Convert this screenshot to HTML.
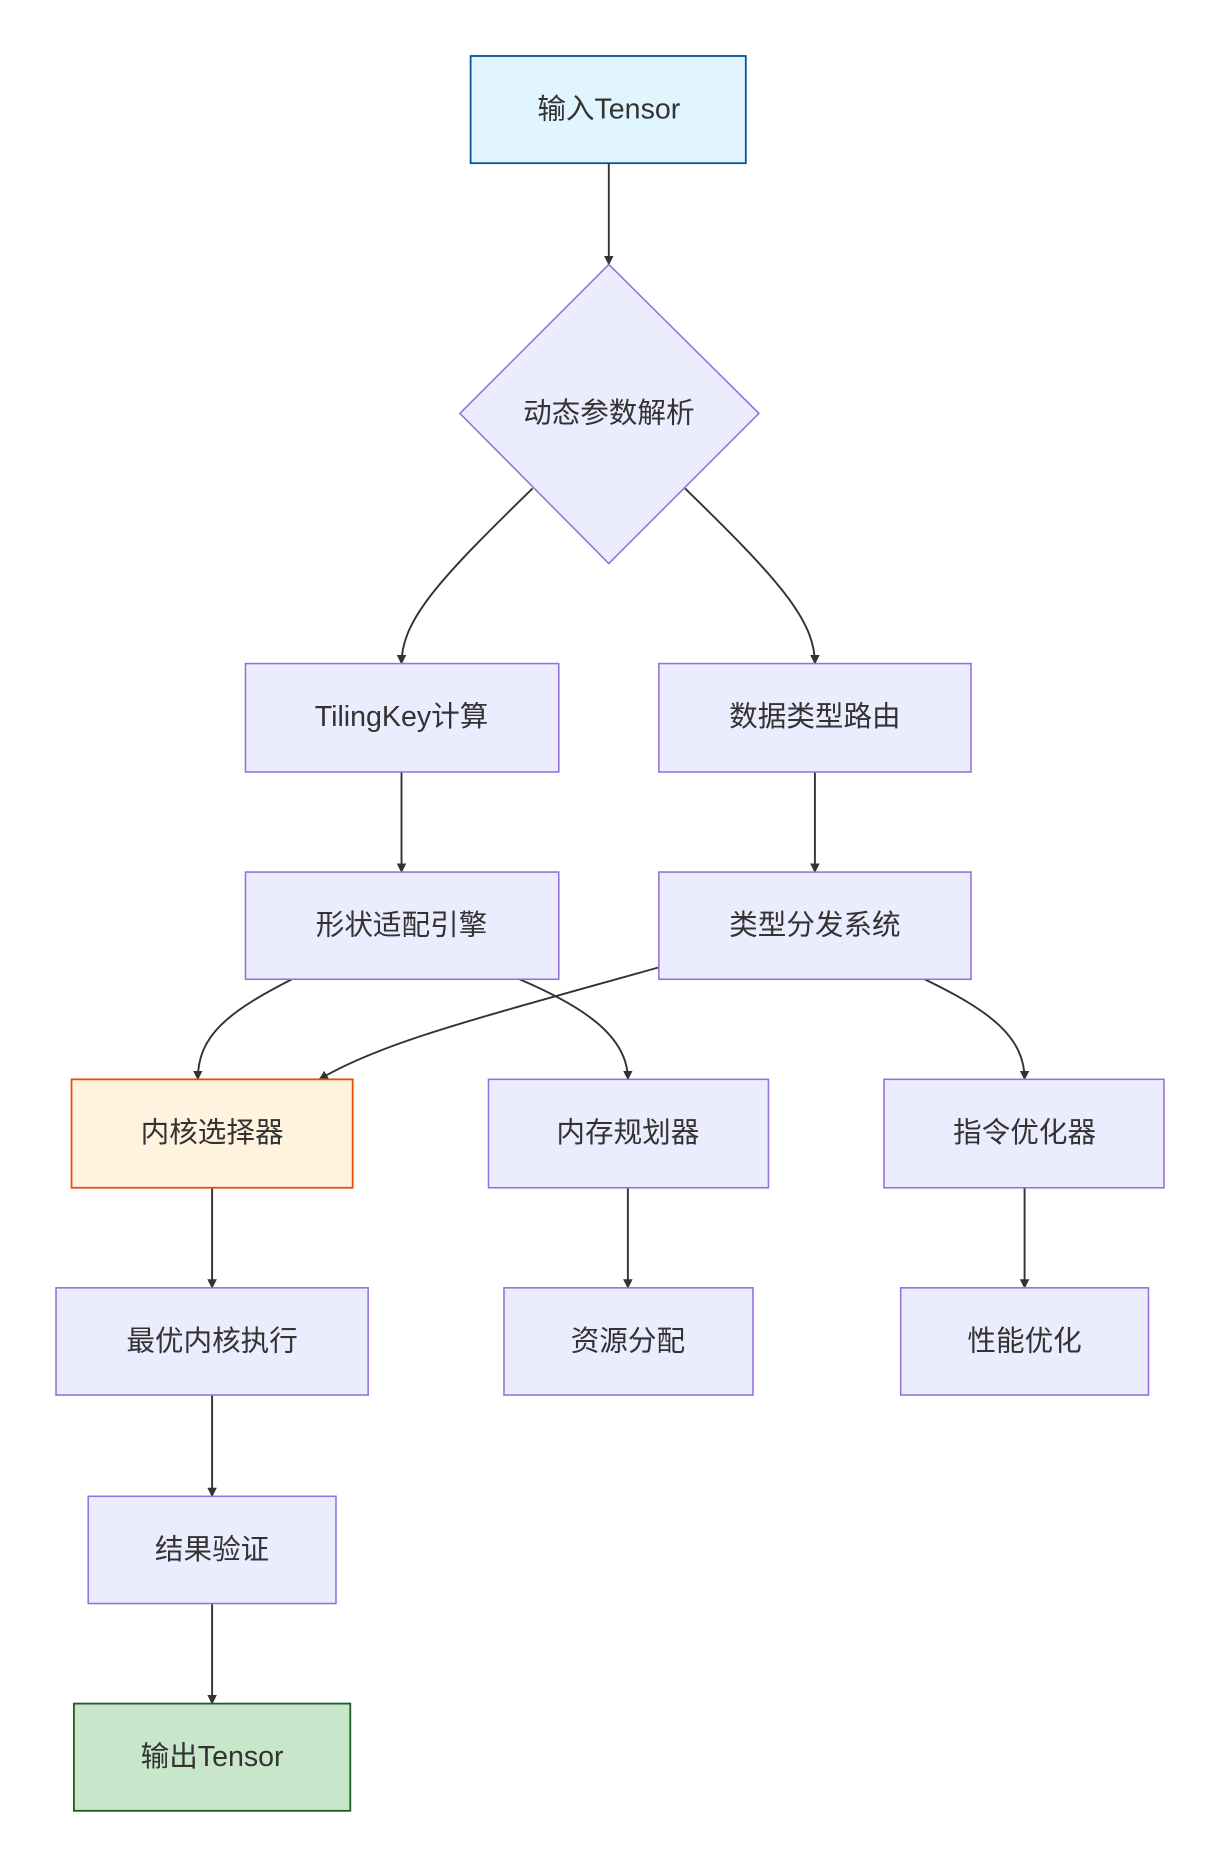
<!DOCTYPE html>
<html><head><meta charset="utf-8"><style>
html,body{margin:0;padding:0;background:#fff;}
svg{display:block;}
text{font-family:"Liberation Sans","Noto Sans CJK SC",sans-serif;font-size:24px;fill:#333;text-anchor:middle;dominant-baseline:central;}
.n{fill:#ececff;stroke:#9370db;stroke-width:1.3;}
.e{fill:none;stroke:#333;stroke-width:1.6;}
</style></head><body>
<svg width="1220" height="1868" viewBox="0 0 1024 1568" xmlns="http://www.w3.org/2000/svg">
<defs><marker id="a" viewBox="0 0 10 10" refX="9" refY="5" markerWidth="8" markerHeight="8" markerUnits="userSpaceOnUse" orient="auto"><path d="M0,0L10,5L0,10z" fill="#333"/></marker></defs>
<g class="e" marker-end="url(#a)">
<path d="M511,137L511,222" marker-end="url(#a)"/>
<path d="M447,410C370,485 337,520 337,557" marker-end="url(#a)"/>
<path d="M575,410C652,485 684,520 684,557" marker-end="url(#a)"/>
<path d="M337,648L337,732" marker-end="url(#a)"/>
<path d="M684,648L684,732" marker-end="url(#a)"/>
<path d="M245,822C190,850 166,870 166,906" marker-end="url(#a)"/>
<path d="M436,822C490,845 527,870 527,906" marker-end="url(#a)"/>
<path d="M553,812C400,855 320,875 268,906" marker-end="url(#a)"/>
<path d="M776,822C830,848 860,870 860,906" marker-end="url(#a)"/>
<path d="M178,997L178,1081" marker-end="url(#a)"/>
<path d="M527,997L527,1081" marker-end="url(#a)"/>
<path d="M860,997L860,1081" marker-end="url(#a)"/>
<path d="M178,1171L178,1256" marker-end="url(#a)"/>
<path d="M178,1346L178,1430" marker-end="url(#a)"/>
</g>
<rect x="395" y="47" width="231" height="90" fill="#e1f5fe" stroke="#01579b" stroke-width="1.5"/><text x="511" y="92">输入Tensor</text>
<polygon class="n" points="511,222 637,347 511,473 386,347"/><text x="511" y="347">动态参数解析</text>
<rect class="n" x="206" y="557" width="263" height="91"/><text x="337" y="602">TilingKey计算</text>
<rect class="n" x="553" y="557" width="262" height="91"/><text x="684" y="602">数据类型路由</text>
<rect class="n" x="206" y="732" width="263" height="90"/><text x="337" y="777">形状适配引擎</text>
<rect class="n" x="553" y="732" width="262" height="90"/><text x="684" y="777">类型分发系统</text>
<rect x="60" y="906" width="236" height="91" fill="#fff3e0" stroke="#e65100" stroke-width="1.5"/><text x="178" y="951">内核选择器</text>
<rect class="n" x="410" y="906" width="235" height="91"/><text x="527" y="951">内存规划器</text>
<rect class="n" x="742" y="906" width="235" height="91"/><text x="860" y="951">指令优化器</text>
<rect class="n" x="47" y="1081" width="262" height="90"/><text x="178" y="1126">最优内核执行</text>
<rect class="n" x="423" y="1081" width="209" height="90"/><text x="527" y="1126">资源分配</text>
<rect class="n" x="756" y="1081" width="208" height="90"/><text x="860" y="1126">性能优化</text>
<rect class="n" x="74" y="1256" width="208" height="90"/><text x="178" y="1301">结果验证</text>
<rect x="62" y="1430" width="232" height="90" fill="#c8e6c9" stroke="#1b5e20" stroke-width="1.5"/><text x="178" y="1475">输出Tensor</text>
</svg>
</body></html>
